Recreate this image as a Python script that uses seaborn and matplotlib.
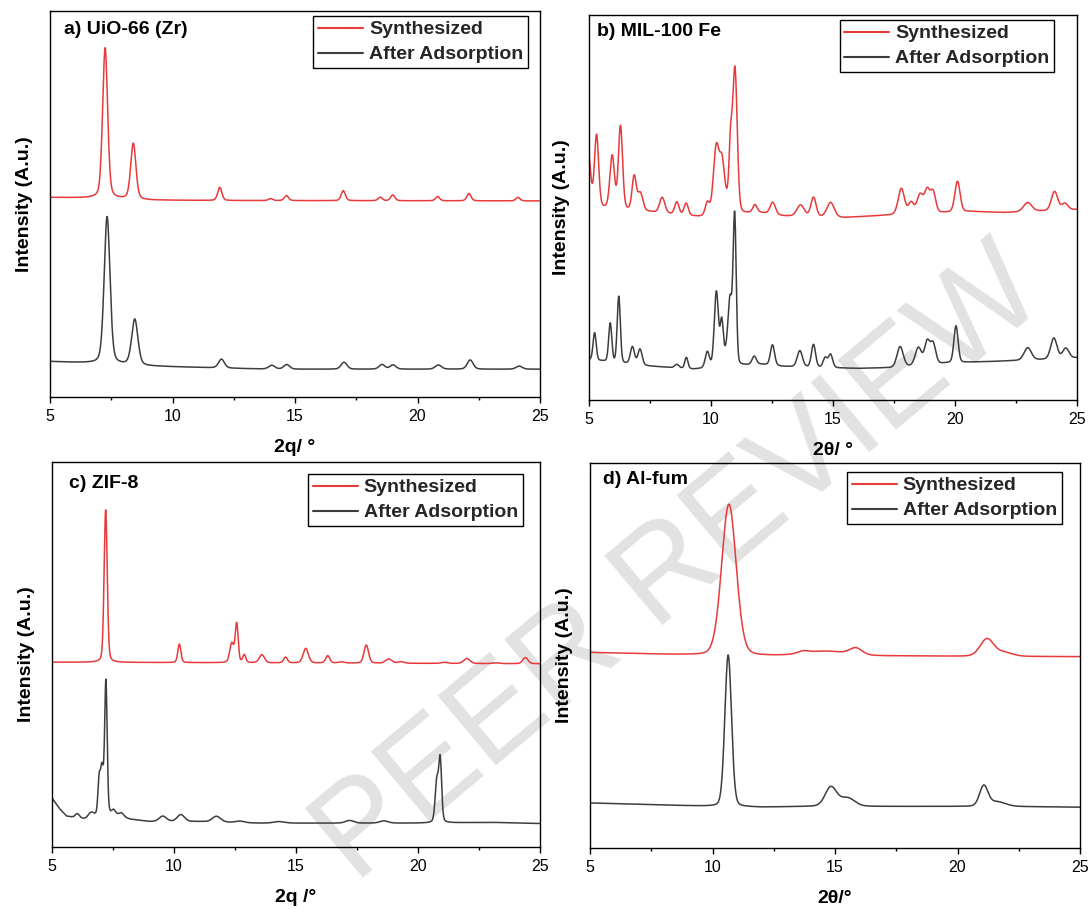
import numpy as np
import pandas as pd
import matplotlib
matplotlib.use("Agg")
import matplotlib.pyplot as plt
from matplotlib.ticker import MultipleLocator
import seaborn as sns

sns.set_theme(style="white")
plt.rcParams['font.family'] = ['Liberation Sans', 'DejaVu Sans']

# ---------------- data (intensity in a.u.) ----------------
two_theta = np.round(np.arange(5.0, 25.0001, 0.01), 2)
series_names = ["Synthesized", "After Adsorption"]

# a) UiO-66 (Zr)
a_syn_bg_x = [5, 7, 9, 12, 25]
a_syn_bg_y = [517, 515, 510, 509, 508]
a_syn_pos = [7.25, 8.40, 11.93, 14.00, 14.65, 16.97, 18.48, 18.99, 20.82, 22.10, 24.10]
a_syn_h = [390, 145, 34, 5, 13, 26, 9, 15, 11, 19, 9]
a_syn_w = [0.24, 0.25, 0.20, 0.20, 0.20, 0.20, 0.20, 0.20, 0.20, 0.20, 0.20]
a_ads_bg_x = [5, 6.5, 7, 9, 12, 14, 25]
a_ads_bg_y = [92, 88, 86, 80, 75, 72, 72]
a_ads_pos = [7.33, 8.46, 12.00, 14.05, 14.66, 17.00, 18.55, 19.00, 20.85, 22.15, 24.15]
a_ads_h = [382, 119, 23, 10, 12, 18, 12, 11, 11, 24, 8]
a_ads_w = [0.28, 0.30, 0.28, 0.30, 0.28, 0.28, 0.28, 0.28, 0.30, 0.28, 0.30]

# b) MIL-100 Fe
b_syn_bg_x = [5, 7.5, 9.5, 12, 13, 15.5, 17.5, 20.5, 22, 25]
b_syn_bg_y = [502, 489, 476, 487, 478, 474, 481, 490, 487, 495]
b_syn_pos = [4.95, 5.31, 5.95, 6.29, 6.85, 7.10, 8.00, 8.60, 8.98, 9.85, 10.22, 10.45,
             10.62, 10.80, 10.98, 11.80, 12.53, 13.67, 14.20, 14.90, 17.80, 18.20, 18.57,
             18.86, 19.10, 20.10, 22.98, 24.08, 24.50]
b_syn_h = [150, 186, 136, 215, 87, 46, 40, 32, 31, 33, 178, 110, 35, 150, 376, 20, 31,
           29, 50, 38, 67, 29, 49, 57, 54, 79, 23, 49, 17]
b_syn_w = [0.25, 0.20, 0.22, 0.20, 0.20, 0.25, 0.25, 0.20, 0.20, 0.20, 0.28, 0.22,
           0.30, 0.15, 0.22, 0.20, 0.25, 0.35, 0.25, 0.35, 0.30, 0.25, 0.30, 0.25,
           0.25, 0.25, 0.40, 0.30, 0.30]
b_ads_bg_x = [5, 7.5, 9.3, 12, 13, 16, 17.5, 19.8, 21.5, 23.5, 25]
b_ads_bg_y = [105, 88, 80, 93, 87, 82, 84, 97, 100, 105, 110]
b_ads_pos = [5.23, 5.87, 6.22, 6.78, 7.09, 8.60, 8.99, 9.85, 10.22, 10.44, 10.60, 10.78,
             10.97, 11.77, 12.52, 13.64, 14.20, 14.68, 14.90, 17.75, 18.50, 18.86, 19.10,
             20.04, 22.98, 24.05, 24.54]
b_ads_h = [71, 100, 172, 45, 41, 9, 29, 41, 195, 111, 25, 170, 384, 21, 53, 42, 59, 25,
           34, 53, 46, 59, 53, 95, 32, 54, 26]
b_ads_w = [0.15, 0.15, 0.15, 0.20, 0.20, 0.20, 0.15, 0.20, 0.20, 0.15, 0.20, 0.20,
           0.15, 0.20, 0.20, 0.25, 0.20, 0.20, 0.20, 0.30, 0.30, 0.25, 0.25, 0.20,
           0.35, 0.30, 0.30]

# c) ZIF-8
c_syn_bg_x = [5, 25]
c_syn_bg_y = [480, 476]
c_syn_pos = [7.20, 10.22, 12.37, 12.57, 12.88, 13.60, 14.57, 15.40, 16.30, 16.86, 17.88,
             18.80, 19.30, 21.07, 22.00, 23.20, 24.40]
c_syn_h = [396, 48, 50, 100, 20, 21, 15, 38, 19, 3, 47, 11, 4, 3, 13, 2, 16]
c_syn_w = [0.15, 0.15, 0.20, 0.14, 0.15, 0.25, 0.18, 0.25, 0.20, 0.30, 0.22, 0.30,
           0.30, 0.30, 0.30, 0.30, 0.25]
c_ads_bg_x = [5, 5.3, 5.6, 6.4, 7.6, 8.2, 9.0, 11, 13.5, 16, 20, 23, 25]
c_ads_bg_y = [127, 100, 80, 71, 85, 72, 66, 66, 62, 62, 62, 64, 61]
c_ads_pos = [6.04, 6.60, 6.93, 7.05, 7.21, 7.52, 7.85, 9.54, 10.28, 11.74, 12.70, 14.30,
             17.20, 18.60, 20.77, 20.91]
c_ads_h = [11, 15, 85, 120, 345, 10, 8, 14, 18, 15, 4, 4, 7, 6, 105, 160]
c_ads_w = [0.20, 0.30, 0.12, 0.15, 0.12, 0.15, 0.20, 0.35, 0.35, 0.40, 0.40, 0.50,
           0.40, 0.40, 0.16, 0.14]

# d) Al-fum
d_syn_bg_x = [5, 8, 9.8, 12.5, 17.5, 20, 25]
d_syn_bg_y = [508, 503, 500, 499, 499, 498, 497]
d_syn_pos = [10.67, 13.70, 14.60, 15.85, 21.20, 21.90]
d_syn_h = [393, 6, 12, 17, 45, 10]
d_syn_w = [0.70, 0.50, 2.00, 0.60, 0.65, 0.80]
d_ads_bg_x = [5, 10, 12, 14, 16.5, 20, 22, 25]
d_ads_bg_y = [117, 108, 106, 108, 108, 108, 108, 106]
d_ads_pos = [10.64, 14.83, 15.50, 21.07, 21.60]
d_ads_h = [394, 50, 22, 52, 12]
d_ads_w = [0.32, 0.55, 0.70, 0.40, 0.80]

titles = ["a) UiO-66 (Zr)", "b) MIL-100 Fe", "c) ZIF-8", "d) Al-fum"]
xlabels = ["2q/ °", "2θ/ °", "2q /°", "2θ/°"]
ylabel = "Intensity (A.u.)"
watermark = "PEER REVIEW"


def pattern(bg_x, bg_y, pos, h, w, eta):
    x = two_theta
    y = np.interp(x, bg_x, bg_y).astype(float)
    for p, hh, ww in zip(pos, h, w):
        u = (x - p) / ww
        y += hh * ((1 - eta) * np.exp(-4 * np.log(2) * u ** 2) + eta / (1 + 4 * u ** 2))
    return y


panels = [
    ((a_syn_bg_x, a_syn_bg_y, a_syn_pos, a_syn_h, a_syn_w),
     (a_ads_bg_x, a_ads_bg_y, a_ads_pos, a_ads_h, a_ads_w), 0.3),
    ((b_syn_bg_x, b_syn_bg_y, b_syn_pos, b_syn_h, b_syn_w),
     (b_ads_bg_x, b_ads_bg_y, b_ads_pos, b_ads_h, b_ads_w), 0.15),
    ((c_syn_bg_x, c_syn_bg_y, c_syn_pos, c_syn_h, c_syn_w),
     (c_ads_bg_x, c_ads_bg_y, c_ads_pos, c_ads_h, c_ads_w), 0.25),
    ((d_syn_bg_x, d_syn_bg_y, d_syn_pos, d_syn_h, d_syn_w),
     (d_ads_bg_x, d_ads_bg_y, d_ads_pos, d_ads_h, d_ads_w), 0.15),
]

# ---------------- layout / style ----------------
W, H = 1091, 909
fig = plt.figure(figsize=(W / 100, H / 100), dpi=100)
fig.patch.set_facecolor("white")

# axes boxes in pixels: left, top, right, bottom
boxes = [(50, 11, 540, 397), (589, 15, 1077, 400), (52, 462, 540, 847), (590, 463, 1080, 848)]
legend_anchor = [(0.9755, 0.987), (0.953, 0.987), (0.965, 0.969), (0.963, 0.977)]
title_pos = [(0.029, 0.951), (0.017, 0.956), (0.035, 0.943), (0.027, 0.958)]
ylabel_pad = [12, 14, 12, 12]

colors = {"Synthesized": "#e8393b", "After Adsorption": "#3d3d3d"}

# watermark behind the plots
fig.text(680 / W, 1 - 566 / H, watermark, rotation=40, ha="center", va="center",
         fontsize=94, color="#e2e2e2", zorder=-5, family="Liberation Sans")

for i, ((syn, ads, eta), box) in enumerate(zip(panels, boxes)):
    l, t, r, b = box
    ax = fig.add_axes([l / W, 1 - b / H, (r - l) / W, (b - t) / H])
    ax.set_facecolor("none")
    df = pd.concat([
        pd.DataFrame({"two_theta": two_theta, "intensity": pattern(*syn, eta),
                      "sample": series_names[0]}),
        pd.DataFrame({"two_theta": two_theta, "intensity": pattern(*ads, eta),
                      "sample": series_names[1]}),
    ])
    sns.lineplot(data=df, x="two_theta", y="intensity", hue="sample", palette=colors,
                 estimator=None, sort=False, linewidth=1.1, ax=ax)
    ax.set_xlim(5, 25)
    ax.set_ylim(0, 1000)
    ax.xaxis.set_major_locator(MultipleLocator(5))
    ax.xaxis.set_minor_locator(MultipleLocator(2.5))
    ax.tick_params(axis="x", which="major", direction="out", length=4.5, width=1.0,
                   bottom=True, top=False, labelsize=11.5, pad=4, colors="black")
    ax.tick_params(axis="x", which="minor", direction="out", length=2.5, width=1.0,
                   bottom=True, top=False, colors="black")
    ax.tick_params(axis="y", which="both", left=False, right=False, labelleft=False)
    for s in ax.spines.values():
        s.set_color("black")
        s.set_linewidth(1.0)
    ax.set_xlabel(xlabels[i], fontsize=14, fontweight="bold", labelpad=11, color="black")
    ax.set_ylabel(ylabel, fontsize=14, fontweight="bold", labelpad=ylabel_pad[i], color="black")
    ax.text(title_pos[i][0], title_pos[i][1], titles[i], transform=ax.transAxes,
            fontsize=14, fontweight="bold", ha="left", va="center", color="black")
    handles, labels = ax.get_legend_handles_labels()
    leg = ax.legend(handles, labels, loc="upper right", bbox_to_anchor=legend_anchor[i],
                    frameon=True, fancybox=False, framealpha=1, edgecolor="black",
                    prop={"size": 14, "weight": "bold"}, handlelength=2.3,
                    handletextpad=0.3, borderpad=0.25, labelspacing=0.38, borderaxespad=0)
    leg.get_frame().set_linewidth(1.0)
    for ln in leg.get_lines():
        ln.set_linewidth(1.5)

fig.savefig("out.png", dpi=100)
